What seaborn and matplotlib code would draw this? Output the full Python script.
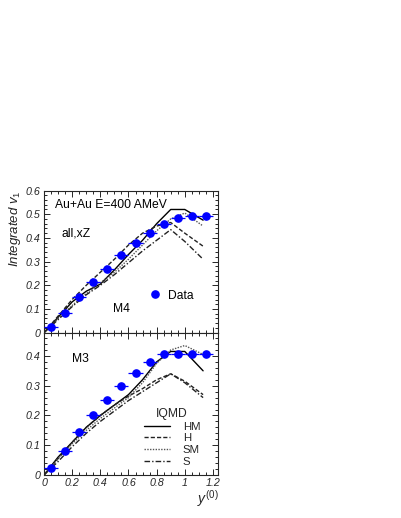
import matplotlib
matplotlib.use("Agg")
import matplotlib.pyplot as plt
import numpy as np
import pandas as pd
import seaborn as sns
from matplotlib.ticker import MultipleLocator

sns.set_style("ticks")
plt.rcParams["font.family"] = ["Liberation Sans", "DejaVu Sans"]
plt.rcParams["mathtext.fontset"] = "custom"
plt.rcParams["mathtext.rm"] = "Liberation Sans"
plt.rcParams["mathtext.it"] = "Liberation Sans:italic"

# data points (same rapidity bins in both panels)
y0_data = [0.05, 0.15, 0.25, 0.35, 0.45, 0.55, 0.65, 0.75, 0.85, 0.95, 1.05, 1.15]
y0_err = [0.05] * 12
v1_m4 = [0.022, 0.082, 0.152, 0.215, 0.27, 0.327, 0.378, 0.422, 0.458, 0.482, 0.493, 0.493]
v1_m3 = [0.025, 0.082, 0.146, 0.201, 0.252, 0.300, 0.342, 0.381, 0.405, 0.407, 0.406, 0.407]

# IQMD curves
y0_model = [0.0, 0.1, 0.2, 0.3, 0.4, 0.5, 0.6, 0.7, 0.8, 0.9, 1.0, 1.13]
m4_HM = [0.0, 0.065, 0.13, 0.175, 0.205, 0.265, 0.33, 0.39, 0.46, 0.52, 0.52, 0.475]
m4_H = [0.0, 0.07, 0.14, 0.2, 0.255, 0.31, 0.37, 0.42, 0.45, 0.465, 0.42, 0.365]
m4_SM = [0.0, 0.06, 0.115, 0.165, 0.21, 0.255, 0.31, 0.37, 0.43, 0.48, 0.505, 0.45]
m4_S = [0.0, 0.055, 0.11, 0.16, 0.2, 0.245, 0.295, 0.345, 0.39, 0.435, 0.385, 0.31]
m3_HM = [0.0, 0.06, 0.11, 0.16, 0.2, 0.235, 0.27, 0.32, 0.38, 0.415, 0.415, 0.35]
m3_H = [0.0, 0.055, 0.11, 0.16, 0.2, 0.235, 0.265, 0.29, 0.32, 0.34, 0.315, 0.27]
m3_SM = [0.0, 0.055, 0.105, 0.15, 0.19, 0.225, 0.26, 0.31, 0.375, 0.42, 0.435, 0.405]
m3_S = [0.0, 0.045, 0.095, 0.14, 0.18, 0.215, 0.25, 0.28, 0.31, 0.34, 0.31, 0.26]

models = ["HM", "H", "SM", "S"]
dashes = {"HM": "", "H": (3, 1.5), "SM": (1, 1), "S": (4, 1.5, 1, 1.5)}
palette = {"HM": "black", "H": "#222222", "SM": "#555555", "S": "#222222"}


def long_df(curves):
    rows = []
    for name, vals in zip(models, curves):
        for x, v in zip(y0_model, vals):
            rows.append({"y0": x, "v1": v, "model": name})
    return pd.DataFrame(rows)


df_m4 = long_df([m4_HM, m4_H, m4_SM, m4_S])
df_m3 = long_df([m3_HM, m3_H, m3_SM, m3_S])

fig = plt.figure(figsize=(4.01, 5.18), dpi=100)
ax1 = fig.add_axes([0.1097, 0.3577, 0.4347, 0.2745])
ax2 = fig.add_axes([0.1097, 0.083, 0.4347, 0.2747])

tick_font = {"family": "Liberation Sans", "style": "italic", "size": 7.7}

for ax, df, v1, ytop in [(ax1, df_m4, v1_m4, 0.6), (ax2, df_m3, v1_m3, 0.478)]:
    sns.lineplot(data=df, x="y0", y="v1", hue="model", style="model",
                 palette=palette, dashes=dashes, lw=1.0, ax=ax, legend=(ax is ax2))
    ax.errorbar(y0_data, v1, xerr=y0_err, fmt="o", color="#0000ff", ms=5.2,
                elinewidth=0.9, capsize=0, zorder=5)
    ax.set_xlim(0, 1.238)
    ax.set_ylim(0, ytop)
    ax.xaxis.set_major_locator(MultipleLocator(0.2))
    ax.xaxis.set_minor_locator(MultipleLocator(0.05))
    ax.yaxis.set_major_locator(MultipleLocator(0.1))
    ax.yaxis.set_minor_locator(MultipleLocator(0.02))
    ax.tick_params(which="both", direction="in", top=True, right=True, width=0.7)
    ax.tick_params(which="major", length=4.5, pad=2.5)
    ax.tick_params(which="minor", length=2.2)
    for s in ax.spines.values():
        s.set_linewidth(0.8)
    ax.set_xlabel("")
    ax.set_ylabel("")
    ax.set_yticks(np.arange(0, ytop + 0.001, 0.1))
    ax.set_yticklabels([f"{t:g}" for t in np.arange(0, ytop + 0.001, 0.1)], fontdict=tick_font)

ax1.set_xticklabels([])
ax2.set_xticks(np.arange(0, 1.21, 0.2))
ax2.set_xticklabels([f"{t:g}" for t in np.arange(0, 1.21, 0.2)], fontdict=tick_font)

ax1.set_ylabel("Integrated $v_1$", loc="top", fontsize=9.5, style="italic", labelpad=2)
ax2.set_xlabel("$y^{(0)}$", loc="right", fontsize=10, labelpad=0)

txt = dict(fontsize=8.7, color="black")
ax1.text(0.078, 0.525, "Au+Au E=400 AMeV", **txt)
ax1.text(0.121, 0.406, "all,xZ", **txt)
ax1.text(0.492, 0.089, "M4", **txt)
ax1.plot([0.788], [0.165], "o", color="#0000ff", ms=5.2)
ax1.text(0.883, 0.143, "Data", **txt)
ax2.text(0.197, 0.381, "M3", **txt)

leg = ax2.legend(title="IQMD", loc="upper left", bbox_to_anchor=(0.71, 0.225),
                 bbox_transform=ax2.transData, frameon=False, fontsize=8.2,
                 title_fontsize=8.7, handlelength=2.3, handletextpad=1.1,
                 labelspacing=0.15, borderpad=0, borderaxespad=0)

fig.savefig("out.png", dpi=100)
